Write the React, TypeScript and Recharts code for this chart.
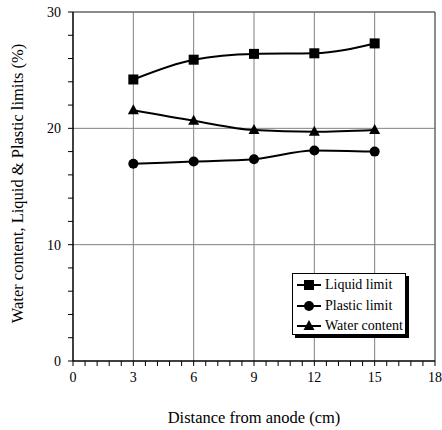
import { LineChart, Line, XAxis, YAxis, ReferenceLine, Legend, Label } from 'recharts'

const distances = [3, 6, 9, 12, 15]
const liquidLimit = [24.2, 25.9, 26.4, 26.45, 27.3]
const plasticLimit = [16.95, 17.15, 17.35, 18.1, 18.0]
const waterContent = [21.55, 20.65, 19.85, 19.7, 19.85]

const xTicks = [0, 0.6, 1.2, 1.8, 2.4, 3, 3.6, 4.2, 4.8, 5.4, 6, 6.6, 7.2, 7.8, 8.4, 9, 9.6, 10.2, 10.8, 11.4, 12, 12.6, 13.2, 13.8, 14.4, 15, 15.6, 16.2, 16.8, 17.4, 18]
const xMajor = [0, 3, 6, 9, 12, 15, 18]
const yTicks = [0, 2, 4, 6, 8, 10, 12, 14, 16, 18, 20, 22, 24, 26, 28, 30]
const yMajor = [0, 10, 20, 30]
const xGrid = [3, 6, 9, 12, 15]
const yGrid = [10, 20]

const data = distances.map((d, i) => ({
  d,
  liquid: liquidLimit[i],
  plastic: plasticLimit[i],
  water: waterContent[i],
}))

const FONT = 'Liberation Serif, Tinos, Times New Roman, DejaVu Serif, serif'

function SquareDot({ cx, cy }: any) {
  return <rect x={cx - 5} y={cy - 5} width={10} height={10} fill="#000" />
}
function CircleDot({ cx, cy }: any) {
  return <circle cx={cx} cy={cy} r={5} fill="#000" />
}
function TriangleDot({ cx, cy }: any) {
  return <path d={`M${cx},${cy - 6}L${cx + 5.5},${cy + 4}L${cx - 5.5},${cy + 4}Z`} fill="#000" />
}

function XTick({ x, y, payload }: any) {
  if (!xMajor.includes(payload.value)) return null
  return (
    <text x={x} y={y} dy="0.71em" textAnchor="middle" style={{ fontFamily: FONT, fontSize: 14 }} fill="#000">
      {payload.value}
    </text>
  )
}
function YTick({ x, y, payload }: any) {
  if (!yMajor.includes(payload.value)) return null
  return (
    <text x={x} y={y} dy="0.35em" textAnchor="end" style={{ fontFamily: FONT, fontSize: 14 }} fill="#000">
      {payload.value}
    </text>
  )
}

const legendItems = [
  { name: 'Liquid limit', Dot: SquareDot },
  { name: 'Plastic limit', Dot: CircleDot },
  { name: 'Water content', Dot: TriangleDot },
]

function LegendBox() {
  return (
    <div
      style={{
        width: 114,
        height: 62,
        boxSizing: 'border-box',
        border: '1px solid #000',
        boxShadow: '3px 3px 0 #000',
        background: '#fff',
        paddingTop: 1,
        fontFamily: FONT,
        fontSize: 14,
        color: '#000',
      }}
    >
      {legendItems.map(({ name, Dot }) => (
        <div key={name} style={{ display: 'flex', alignItems: 'center', height: 20.5 }}>
          <svg width={29} height={14} style={{ marginLeft: 3, flex: 'none' }}>
            <line x1={1} y1={7} x2={25} y2={7} stroke="#000" strokeWidth={2} />
            <Dot cx={13} cy={7} />
          </svg>
          <span style={{ lineHeight: '14px', whiteSpace: 'nowrap' }}>{name}</span>
        </div>
      ))}
    </div>
  )
}

export default function App() {
  return (
    <div style={{ position: 'absolute', left: 0, top: 0, background: '#fff', fontFamily: FONT }}>
      <LineChart width={442} height={430} data={data} margin={{ top: 12, right: 7, left: 0, bottom: 0 }}>
        <XAxis
          dataKey="d"
          type="number"
          domain={[0, 18]}
          ticks={xTicks}
          interval={0}
          height={69}
          tickSize={5}
          tickMargin={6}
          tick={<XTick />}
          axisLine={{ stroke: '#000', strokeWidth: 1.5 }}
          tickLine={{ stroke: '#000' }}
        >
          <Label
            content={({ viewBox }: any) => (
              <text
                x={viewBox.x + viewBox.width / 2}
                y={423}
                textAnchor="middle"
                style={{ fontFamily: FONT, fontSize: 16.5 }}
                fill="#000"
              >
                Distance from anode (cm)
              </text>
            )}
          />
        </XAxis>
        <YAxis
          type="number"
          domain={[0, 30]}
          ticks={yTicks}
          interval={0}
          width={73}
          tickSize={5}
          tickMargin={7}
          tick={<YTick />}
          axisLine={{ stroke: '#000', strokeWidth: 1.5 }}
          tickLine={{ stroke: '#000' }}
        >
          <Label
            content={({ viewBox }: any) => {
              const cy = viewBox.y + viewBox.height / 2 - 3
              return (
                <text
                  x={17}
                  y={cy}
                  transform={`rotate(-90 17 ${cy})`}
                  textAnchor="middle"
                  dominantBaseline="central"
                  style={{ fontFamily: FONT, fontSize: 16.5 }}
                  fill="#000"
                >
                  Water content, Liquid &amp; Plastic limits (%)
                </text>
              )
            }}
          />
        </YAxis>
        {xGrid.map((v) => (
          <ReferenceLine key={'x' + v} x={v} stroke="#808080" strokeWidth={1} />
        ))}
        {yGrid.map((v) => (
          <ReferenceLine key={'y' + v} y={v} stroke="#808080" strokeWidth={1} />
        ))}
        <ReferenceLine y={30} stroke="#666" strokeWidth={1.5} />
        <ReferenceLine x={18} stroke="#666" strokeWidth={1.5} />
        <Legend
          layout="vertical"
          align="center"
          verticalAlign="middle"
          content={<LegendBox />}
          wrapperStyle={{ position: 'absolute', left: 292, top: 273, width: 117, height: 65 }}
        />
        <Line type="monotone" dataKey="liquid" name="Liquid limit" stroke="#000" strokeWidth={2} dot={<SquareDot />} isAnimationActive={false} />
        <Line type="monotone" dataKey="plastic" name="Plastic limit" stroke="#000" strokeWidth={2} dot={<CircleDot />} isAnimationActive={false} />
        <Line type="monotone" dataKey="water" name="Water content" stroke="#000" strokeWidth={2} dot={<TriangleDot />} isAnimationActive={false} />
      </LineChart>
    </div>
  )
}
